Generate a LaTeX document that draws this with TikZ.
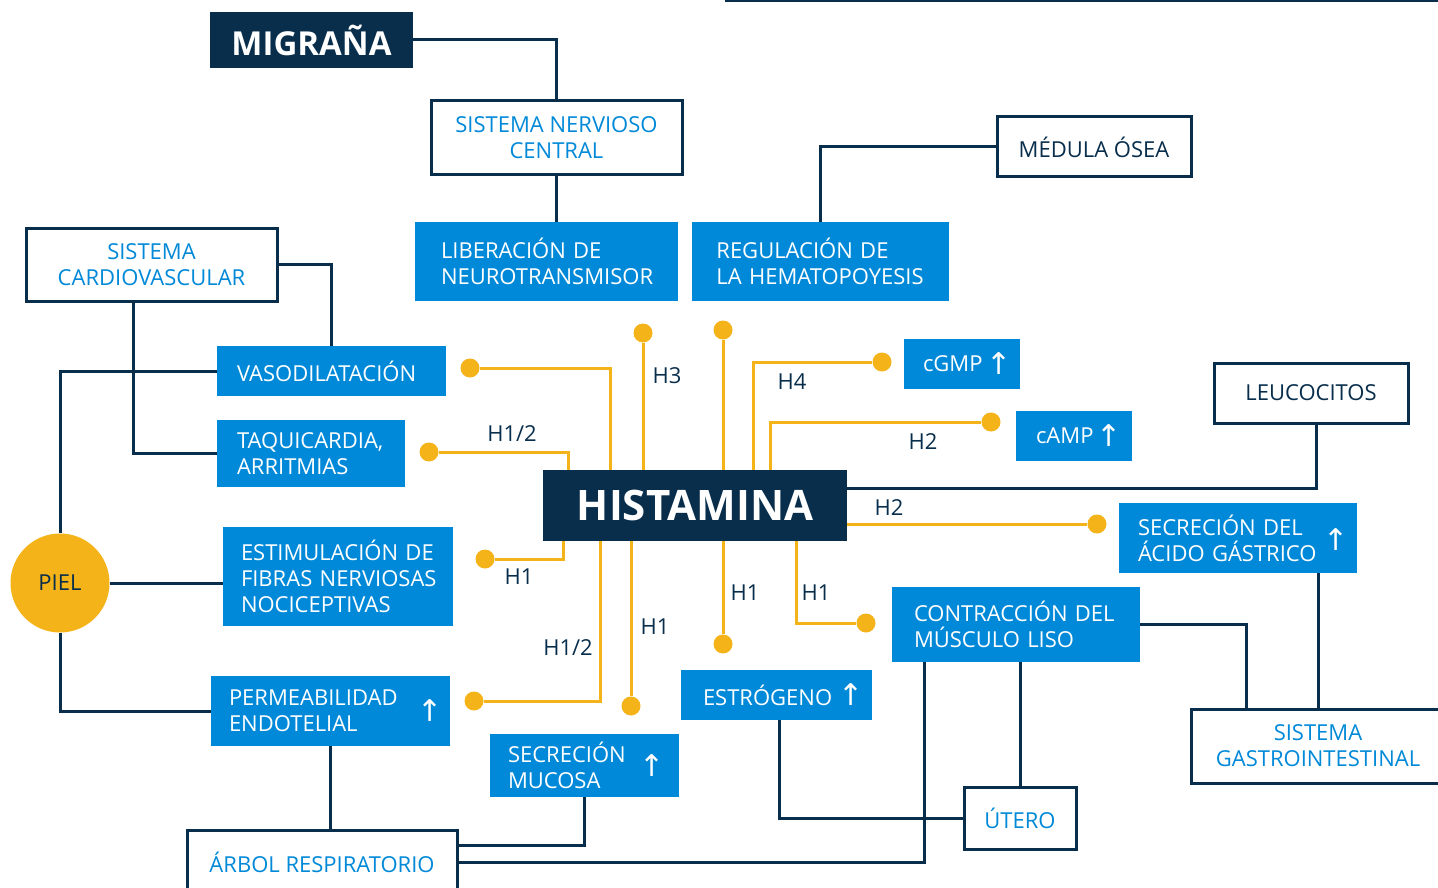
\documentclass[tikz,border=0pt]{standalone}
\usepackage{fontspec}
\setmainfont{Open Sans}
\newfontfamily\arrowfont{DejaVu Sans}
\usetikzlibrary{positioning,calc}
\definecolor{navy}{RGB}{8,46,76}
\definecolor{azul}{RGB}{0,137,216}
\definecolor{amarillo}{RGB}{245,179,26}
\newcommand\txt{\fontsize{22}{26}\selectfont}
\begin{document}
\begin{tikzpicture}[x=1pt,y=-1pt,
	azulbox/.style={fill=azul, text=white, font=\txt, align=left, inner ysep=0pt},
	blancobox/.style={draw=navy, line width=3pt, fill=white, text=azul, font=\txt, align=center, inner sep=0pt},
	oscurobox/.style={fill=navy, text=white, inner sep=0pt},
	conn/.style={draw=navy, line width=3pt},
	ylw/.style={draw=amarillo, line width=3pt},
	punto/.style={circle, fill=amarillo, inner sep=0pt, minimum size=19pt},
	flecha/.style={text=white, font=\arrowfont\fontsize{30}{30}\selectfont, inner sep=0pt},
	hlabel/.style={text=navy, font=\txt, inner sep=0pt}]
		\useasboundingbox (0,0) rectangle (1438,888);
		\draw[conn] (725,1) -- (1438,1);
		
		%top
		\node (mig) [oscurobox, minimum width=203pt, minimum height=56pt, font=\fontsize{33}{33}\selectfont\bfseries] at (311.5,40) {MIGRAÑA};
		\node (snc) [blancobox, minimum width=251pt, minimum height=74pt] at (556.5,138) {SISTEMA NERVIOSO\\CENTRAL};
		\node (lib) [azulbox, text width=211pt, inner xsep=26pt, minimum height=79pt] at (546.5,261.5) {LIBERACIÓN DE\\NEUROTRANSMISOR};
		\node (reg) [azulbox, text width=209pt, inner xsep=24pt, minimum height=79pt, right = 14pt of lib] {REGULACIÓN DE\\LA HEMATOPOYESIS};
		\node (med) [blancobox, text=navy, minimum width=194pt, minimum height=60pt] at (1094,147) {MÉDULA ÓSEA};
		
		%left
		\node (scv) [blancobox, minimum width=251pt, minimum height=73pt] at (151.5,264.5) {SISTEMA\\CARDIOVASCULAR};
		\node (vaso) [azulbox, text width=189pt, inner xsep=20pt, minimum height=50pt] at (331.5,371) {VASODILATACIÓN};
		\node (taq) [azulbox, text width=148pt, inner xsep=20pt, minimum height=67pt] at (311,453.5) {\mbox{TAQUICARDIA,}\\ARRITMIAS};
		\node (estim) [azulbox, text width=194pt, inner xsep=18pt, minimum height=99pt] at (338,576.5) {\mbox{ESTIMULACIÓN DE}\\\mbox{FIBRAS NERVIOSAS}\\NOCICEPTIVAS};
		\node (piel) [circle, fill=amarillo, text=navy, font=\txt, minimum size=99pt, inner sep=0pt] at (60,583) {PIEL};
		\node (perm) [azulbox, text width=203pt, inner xsep=18pt, minimum height=70pt] at (330.5,711) {PERMEABILIDAD\\ENDOTELIAL};
		\node (permup) [flecha] at (430,711) {↑};
		\node (arbol) [blancobox, minimum width=270pt, minimum height=64pt] at (322,862) {ÁRBOL RESPIRATORIO};
		
		%bottom
		\node (muc) [azulbox, text width=153pt, inner xsep=18pt, minimum height=63pt] at (584.5,765.5) {SECRECIÓN\\MUCOSA};
		\node (mucup) [flecha] at (652,766) {↑};
		\node (estro) [azulbox, text width=147pt, inner xsep=22pt, minimum height=50pt] at (776.5,695) {ESTRÓGENO};
		\node (estroup) [flecha] at (851,695) {↑};
		\node (contr) [azulbox, text width=204pt, inner xsep=22pt, minimum height=75pt] at (1016,624.5) {\mbox{CONTRACCIÓN DEL}\\MÚSCULO LISO};
		\node (utero) [blancobox, minimum width=112pt, minimum height=62pt] at (1020,818) {ÚTERO};
		\node (sgi) [blancobox, minimum width=254pt, minimum height=74pt] at (1318,746) {SISTEMA\\GASTROINTESTINAL};
		
		%right
		\node (hist) [oscurobox, minimum width=304pt, minimum height=71pt, font=\fontsize{42}{42}\selectfont\bfseries] at (695,505.5) {HISTAMINA};
		\node (leuc) [blancobox, text=navy, minimum width=194pt, minimum height=60pt] at (1311,393) {LEUCOCITOS};
		\node (acido) [azulbox, text width=200pt, inner xsep=19pt, minimum height=70pt] at (1238,538) {\mbox{SECRECIÓN DEL}\\\mbox{ÁCIDO GÁSTRICO}};
		\node (acidoup) [flecha] at (1336,540) {↑};
		\node (cgmp) [azulbox, text width=78pt, inner xsep=19pt, minimum height=50pt] at (962,364) {cGMP};
		\node (cgmpup) [flecha] at (999,364) {↑};
		\node (camp) [azulbox, text width=76pt, inner xsep=20pt, minimum height=50pt] at (1074,436) {cAMP};
		\node (campup) [flecha] at (1109,436) {↑};
		
		%navy links
		\draw[conn] (mig.east) -| (snc.north);
		\draw[conn] (snc.south) -- (snc.south |- lib.north);
		\draw[conn] (reg.north) |- (med.west);
		\draw[conn] (scv.east) -| (vaso.north);
		\coordinate [right = 109pt of scv.south west] (cv1);
		\draw[conn] (cv1) |- (taq.west);
		\draw[conn] (piel.north) |- (vaso.west);
		\draw[conn] (piel.east) -- (piel.east -| estim.west);
		\draw[conn] (piel.south) |- (perm.west);
		\draw[conn] (perm.south) -- (perm.south |- arbol.north);
		\coordinate (ar1) at (457,845);
		\coordinate (ar2) at (924,662);
		\draw[conn] (ar1) -| (muc.south);
		\draw[conn] (arbol.east) -| (ar2);
		\coordinate (es1) at (779,720);
		\draw[conn] (es1) |- (utero.west);
		\draw[conn] (utero.north) -- (utero.north |- contr.south);
		\coordinate (sg1) at (1246,709);
		\draw[conn] (contr.east) -| (sg1);
		\draw[conn] (sgi.north) -- (sgi.north |- acido.south);
		\coordinate (le1) at (1316,423);
		\coordinate (hs1) at (847,488);
		\draw[conn] (le1) |- (hs1);
		
		%receptor dots
		\node (dvaso) [punto] at (470,368) {};
		\node (dtaq) [punto] at (429,452) {};
		\node (dh3) [punto] at (643,333) {};
		\node (dtop) [punto] at (723,330) {};
		\node (dcgmp) [punto] at (882,362) {};
		\node (dcamp) [punto] at (991,422) {};
		\node (dacido) [punto] at (1097,524) {};
		\node (destim) [punto] at (485,559) {};
		\node (dperm) [punto] at (474,701) {};
		\node (dmuc) [punto] at (631,706) {};
		\node (destro) [punto] at (723,644) {};
		\node (dcontr) [punto] at (866,623) {};
		
		%yellow links
		\coordinate (y1) at (610,470);
		\coordinate (y2) at (568,470);
		\coordinate (y3) at (753,470);
		\coordinate (y4) at (770,470);
		\coordinate (y5) at (563,541);
		\coordinate (y6) at (600,541);
		\coordinate (y7) at (796,541);
		\draw[ylw] (y1) |- (dvaso);
		\draw[ylw] (y2) |- (dtaq);
		\draw[ylw] (dh3) -- (dh3 |- hist.north);
		\draw[ylw] (dtop) -- (dtop |- hist.north);
		\draw[ylw] (y3) |- (dcgmp);
		\draw[ylw] (y4) |- (dcamp);
		\draw[ylw] (hist.east |- dacido) -- (dacido);
		\draw[ylw] (y5) |- (destim);
		\draw[ylw] (y6) |- (dperm);
		\draw[ylw] (dmuc) -- (dmuc |- hist.south);
		\draw[ylw] (destro) -- (destro |- hist.south);
		\draw[ylw] (y7) |- (dcontr);
		
		%receptor labels
		\node (lh3) [hlabel] at (667,376) {H3};
		\node (lh4) [hlabel] at (792,382) {H4};
		\node (lh2a) [hlabel] at (923,442) {H2};
		\node (lh12a) [hlabel] at (512,434) {H1/2};
		\node (lh2b) [hlabel] at (889,508) {H2};
		\node (lh1a) [hlabel] at (519,577) {H1};
		\node (lh12b) [hlabel] at (568,648) {H1/2};
		\node (lh1b) [hlabel] at (655,627) {H1};
		\node (lh1c) [hlabel] at (745,593) {H1};
		\node (lh1d) [hlabel] at (816,593) {H1};
\end{tikzpicture}
\end{document}
